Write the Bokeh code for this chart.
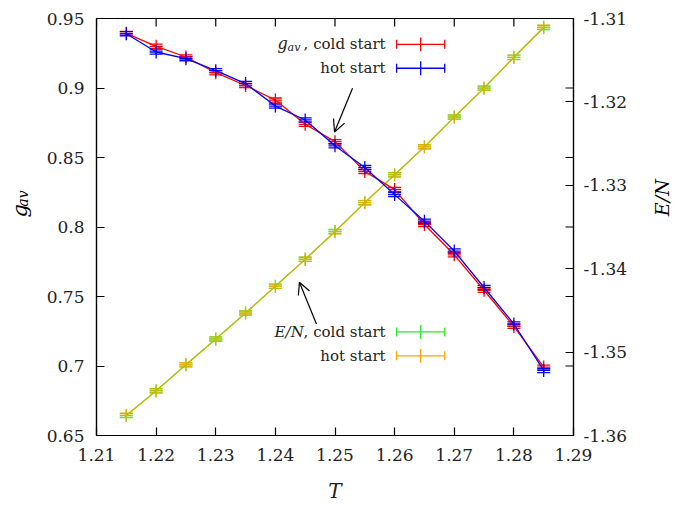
from math import pi
from bokeh.plotting import figure
from bokeh.layouts import row
from bokeh.core.properties import value
from bokeh.models import (LinearAxis, Range1d, FixedTicker, Whisker, TeeHead,
                          ColumnDataSource, Label, Arrow, OpenHead)
from bokeh.embed import file_html
from bokeh.resources import INLINE

# ---------------- data ----------------
T = [1.215, 1.220, 1.225, 1.230, 1.235, 1.240, 1.245, 1.250,
     1.255, 1.260, 1.265, 1.270, 1.275, 1.280, 1.285]

g_cold = [0.9393, 0.9300, 0.9223, 0.9110, 0.9018, 0.8913, 0.8739, 0.8614,
          0.8400, 0.8269, 0.8018, 0.7800, 0.7545, 0.7285, 0.6992]
g_hot = [0.9390, 0.9259, 0.9211, 0.9125, 0.9032, 0.8870, 0.8770, 0.8584,
         0.8428, 0.8233, 0.8042, 0.7827, 0.7565, 0.7302, 0.6968]
g_err_cold = [0.0015, 0.0015, 0.0015, 0.0015, 0.0015, 0.0015, 0.0015, 0.0015,
              0.0015, 0.0015, 0.0015, 0.0015, 0.0015, 0.0015, 0.0015]
g_err_hot = [0.0015, 0.0015, 0.0015, 0.0015, 0.0015, 0.0015, 0.0015, 0.0015,
             0.0015, 0.0015, 0.0015, 0.0015, 0.0015, 0.0015, 0.0015]

E_cold = [-1.35761, -1.35463, -1.35153, -1.34842, -1.34532, -1.34210, -1.33888,
          -1.33554, -1.33208, -1.32873, -1.32539, -1.32181, -1.31835, -1.31465, -1.31107]
E_hot = [-1.35758, -1.35465, -1.35150, -1.34845, -1.34530, -1.34212, -1.33886,
         -1.33556, -1.33206, -1.32875, -1.32537, -1.32183, -1.31833, -1.31467, -1.31105]
E_err_cold = [0.00025, 0.00025, 0.00025, 0.00025, 0.00025, 0.00025, 0.00025, 0.00025,
              0.00025, 0.00025, 0.00025, 0.00025, 0.00025, 0.00025, 0.00025]
E_err_hot = [0.00025, 0.00025, 0.00025, 0.00025, 0.00025, 0.00025, 0.00025, 0.00025,
             0.00025, 0.00025, 0.00025, 0.00025, 0.00025, 0.00025, 0.00025]

X_TICKS = [1.21, 1.22, 1.23, 1.24, 1.25, 1.26, 1.27, 1.28, 1.29]
X_TICK_LABELS = ["1.21", "1.22", "1.23", "1.24", "1.25", "1.26", "1.27", "1.28", "1.29"]
Y_TICKS = [0.65, 0.70, 0.75, 0.80, 0.85, 0.90, 0.95]
Y_TICK_LABELS = ["0.65", "0.7", "0.75", "0.8", "0.85", "0.9", "0.95"]
E_TICKS = [-1.36, -1.35, -1.34, -1.33, -1.32, -1.31]
E_TICK_LABELS = ["-1.36", "-1.35", "-1.34", "-1.33", "-1.32", "-1.31"]

X_RANGE = (1.21, 1.29)
Y_RANGE = (0.65, 0.95)
E_RANGE = (-1.36, -1.31)

# ---------------- style ----------------
FONT = "DejaVu Serif"
RED, BLUE, GREEN, ORANGE = "#ff0000", "#0000ff", "#22ee22", "#ffa500"
LW = 1.3
TICK_FS = "17px"
LEG_FS = "15px"

# left strip (y-axis title with subscript)
left = figure(width=40, height=505, x_range=(0, 40), y_range=(0, 505),
              output_backend="svg", toolbar_location=None, min_border=0)
# right strip (E/N title)
rstrip = figure(width=40, height=505, x_range=(0, 40), y_range=(0, 505),
                output_backend="svg", toolbar_location=None, min_border=0)
for f in (left, rstrip):
    f.axis.visible = False
    f.grid.visible = False
    f.outline_line_color = None

left.text(x=[19], y=[272], text=["g"], angle=pi / 2, text_font=value(FONT),
          text_font_style="italic", text_font_size="21px", text_align="center",
          text_baseline="middle")
left.text(x=[22], y=[287], text=["av"], angle=pi / 2, text_font=value(FONT),
          text_font_style="italic", text_font_size="14px", text_align="center",
          text_baseline="middle")
rstrip.text(x=[21], y=[288], text=["E/N"], angle=pi / 2, text_font=value(FONT),
            text_font_style="italic", text_font_size="19px", text_align="center",
            text_baseline="middle")

p = figure(width=600, height=505, x_range=Range1d(*X_RANGE), y_range=Range1d(*Y_RANGE),
           output_backend="svg", toolbar_location=None,
           min_border_left=56, min_border_right=67, min_border_top=18, min_border_bottom=68)
p.extra_y_ranges = {"E": Range1d(*E_RANGE)}
p.background_fill_color = "white"
p.border_fill_color = "white"
p.outline_line_color = "black"
p.outline_line_width = 1.2
p.xgrid.visible = False
p.ygrid.visible = False


def style_axis(ax, ticks, labels, standoff):
    ax.ticker = FixedTicker(ticks=ticks)
    ax.major_label_overrides = {t: l for t, l in zip(ticks, labels)}
    ax.minor_tick_line_color = None
    ax.major_tick_in = 8
    ax.major_tick_out = 0
    ax.major_tick_line_color = "black"
    ax.major_tick_line_width = 1.2
    ax.axis_line_color = "black"
    ax.axis_line_width = 1.2
    ax.major_label_text_font = FONT
    ax.major_label_text_font_size = TICK_FS
    ax.major_label_text_color = "#222222"
    ax.major_label_standoff = standoff


style_axis(p.xaxis[0], X_TICKS, X_TICK_LABELS, 13)
p.xaxis[0].axis_label = "T"
p.xaxis[0].axis_label_text_font = FONT
p.xaxis[0].axis_label_text_font_style = "italic"
p.xaxis[0].axis_label_text_font_size = "20px"
p.xaxis[0].axis_label_text_color = "#222222"
p.xaxis[0].axis_label_standoff = 15
style_axis(p.yaxis[0], Y_TICKS, Y_TICK_LABELS, 12)

right = LinearAxis(y_range_name="E")
style_axis(right, E_TICKS, E_TICK_LABELS, 10)
p.add_layout(right, "right")

# mirrored ticks: left-axis ticks on the right border, bottom ticks on the top border
tick_dx = 8 / 5950
tick_dy = 8 / 1396.7
p.segment(x0=[X_RANGE[1] - tick_dx] * len(Y_TICKS), x1=[X_RANGE[1]] * len(Y_TICKS),
          y0=Y_TICKS, y1=Y_TICKS, line_color="black", line_width=1.2)
p.segment(x0=X_TICKS, x1=X_TICKS, y0=[Y_RANGE[1] - tick_dy] * len(X_TICKS),
          y1=[Y_RANGE[1]] * len(X_TICKS), line_color="black", line_width=1.2)


def series(y, err, color, yr=None, alpha=1.0):
    kw = {} if yr is None else {"y_range_name": yr}
    src = ColumnDataSource(dict(x=T, y=y, lo=[a - b for a, b in zip(y, err)],
                                hi=[a + b for a, b in zip(y, err)]))
    p.line("x", "y", source=src, line_color=color, line_width=LW, line_alpha=alpha, **kw)
    p.scatter("x", "y", source=src, marker="cross", size=13, line_color=color,
              line_width=LW, line_alpha=alpha, **kw)
    w = Whisker(base="x", lower="lo", upper="hi", source=src, dimension="height",
                line_color=color, line_width=LW, line_alpha=alpha,
                lower_head=TeeHead(size=13, line_color=color, line_width=LW, line_alpha=alpha),
                upper_head=TeeHead(size=13, line_color=color, line_width=LW, line_alpha=alpha),
                **kw)
    p.add_layout(w)


series(E_cold, E_err_cold, GREEN, "E")
series(E_hot, E_err_hot, ORANGE, "E", alpha=0.8)
series(g_cold, g_err_cold, RED)
series(g_hot, g_err_hot, BLUE)

# ---------------- manual legend ----------------
LEG_TX = 1.25849
LEG_X0, LEG_XM, LEG_X1 = 1.26033, 1.26437, 1.26840
ROWS = [0.9314, 0.9142, 0.7245, 0.7073]
ROW_COLORS = [RED, BLUE, GREEN, ORANGE]
for yv, c in zip(ROWS, ROW_COLORS):
    p.add_layout(Arrow(x_start=LEG_X0, y_start=yv, x_end=LEG_X1, y_end=yv,
                       line_color=c, line_width=LW,
                       start=TeeHead(size=9, line_color=c, line_width=LW),
                       end=TeeHead(size=9, line_color=c, line_width=LW)))
    p.add_layout(Arrow(x_start=LEG_XM, y_start=yv - 0.005, x_end=LEG_XM, y_end=yv + 0.005,
                       line_color=c, line_width=LW, end=None))


def leg_text(x, y, text, align="right", style="normal", size=LEG_FS, xo=0, yo=0):
    p.add_layout(Label(x=x, y=y, x_offset=xo, y_offset=yo, text=text, text_font=FONT,
                       text_font_style=style, text_font_size=size, text_align=align,
                       text_baseline="middle", text_color="#222222"))


leg_text(LEG_TX, ROWS[0], ", cold start")
leg_text(LEG_TX, ROWS[0], "g", align="left", style="italic", size="16px", xo=-108, yo=1)
leg_text(LEG_TX, ROWS[0], "av", align="left", style="italic", size="11px", xo=-98, yo=-3)
leg_text(LEG_TX, ROWS[1], "hot start")
leg_text(LEG_TX, ROWS[2], ", cold start")
leg_text(LEG_TX, ROWS[2], "E/N", align="left", style="italic", xo=-111)
leg_text(LEG_TX, ROWS[3], "hot start")

# ---------------- arrows ----------------
p.add_layout(Arrow(x_start=1.25294, y_start=0.89988, x_end=1.24992, y_end=0.86838,
                   line_color="black", line_width=1.2,
                   end=OpenHead(size=12, line_color="black", line_width=1.2)))
p.add_layout(Arrow(x_start=1.24689, y_start=0.7302, x_end=1.24403, y_end=0.7603,
                   line_color="black", line_width=1.2,
                   end=OpenHead(size=12, line_color="black", line_width=1.2)))

layout = row(left, p, rstrip)
open("out.html", "w").write(file_html(layout, INLINE))
